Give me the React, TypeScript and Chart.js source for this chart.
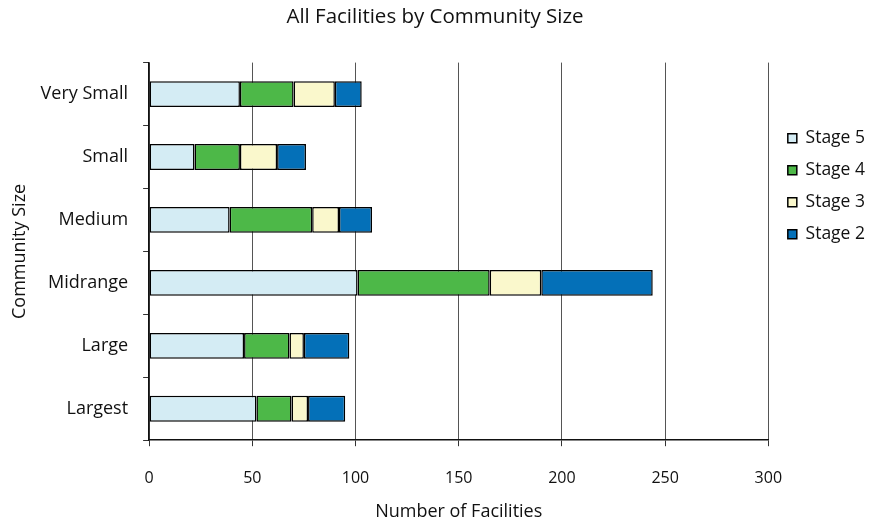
import React, { useEffect, useRef } from "react";
import { Chart, registerables } from "chart.js";

Chart.register(...registerables);

const categories = ["Very Small", "Small", "Medium", "Midrange", "Large", "Largest"];
const stage5 = [44, 22, 39, 101, 46, 52];
const stage4 = [26, 22, 40, 64, 22, 17];
const stage3 = [20, 18, 13, 25, 7, 8];
const stage2 = [13, 14, 16, 54, 22, 18];
const xTicks = [0, 50, 100, 150, 200, 250, 300];

const FONT = "'Open Sans', 'Noto Sans', sans-serif";

const legendShift = {
  id: "legendShift",
  afterLayout(chart: any) {
    if (chart.legend) {
      chart.legend.left += 5;
      chart.legend.right += 5;
    }
  },
};

export default function App() {
  const ref = useRef<HTMLCanvasElement>(null);
  useEffect(() => {
    if (!ref.current) return;
    const mk = (label: string, data: number[], color: string) => ({
      label,
      data,
      backgroundColor: color,
      borderColor: "#000",
      borderWidth: 1.5,
      borderSkipped: false,
      barPercentage: 0.41,
      categoryPercentage: 1,
    });
    const chart = new Chart(ref.current, {
      type: "bar",
      data: {
        labels: categories,
        datasets: [
          mk("Stage 5", stage5, "#d4ecf4"),
          mk("Stage 4", stage4, "#4db848"),
          mk("Stage 3", stage3, "#faf8cc"),
          mk("Stage 2", stage2, "#0470b8"),
        ],
      },
      plugins: [legendShift],
      options: {
        indexAxis: "y",
        animation: false,
        responsive: true,
        maintainAspectRatio: false,
        layout: { padding: { left: 0, right: 17, top: 0, bottom: 0 } },
        plugins: {
          title: {
            display: true,
            text: "All Facilities by Community Size",
            color: "#111",
            font: { family: FONT, size: 20.5, weight: "normal" },
            padding: { top: 5, bottom: 33 },
          },
          legend: {
            position: "right",
            align: "start",
            fullSize: false,
            title: {
              display: true,
              text: " ",
              font: { family: FONT, size: 12 },
              padding: { top: 0, bottom: 38 },
            },
            labels: {
              color: "#111",
              font: { family: FONT, size: 17.5 },
              boxWidth: 9,
              boxHeight: 9,
              padding: 14.5,
            },
          },
          tooltip: { enabled: false },
        },
        scales: {
          x: {
            stacked: true,
            min: 0,
            max: 300,
            afterBuildTicks: (scale: any) => {
              scale.ticks = xTicks.map((v) => ({ value: v }));
            },
            ticks: {
              color: "#111",
              font: { family: FONT, size: 16 },
              padding: 23,
              maxRotation: 0,
            },
            grid: {
              color: "#555",
              lineWidth: 1,
              drawTicks: true,
              tickLength: 6,
              tickColor: "#333",
            },
            border: { display: true, color: "#111", width: 1.5 },
            title: {
              display: true,
              text: "Number of Facilities",
              color: "#111",
              font: { family: FONT, size: 18 },
              padding: { top: -10, bottom: 3 },
            },
          },
          y: {
            stacked: true,
            ticks: {
              color: "#111",
              font: { family: FONT, size: 18 },
              padding: 15,
            },
            grid: {
              offset: true,
              drawOnChartArea: false,
              drawTicks: true,
              tickLength: 6,
              tickColor: "#333",
            },
            border: { display: true, color: "#111", width: 1.5 },
            title: {
              display: true,
              text: "Community Size",
              color: "#111",
              font: { family: FONT, size: 18 },
              padding: { top: 9, bottom: -5 },
            },
          },
        },
      },
    });
    return () => chart.destroy();
  }, []);
  return (
    <div style={{ position: "absolute", left: 0, top: 0, width: 887, height: 526, background: "#fff" }}>
      <canvas ref={ref} />
    </div>
  );
}
